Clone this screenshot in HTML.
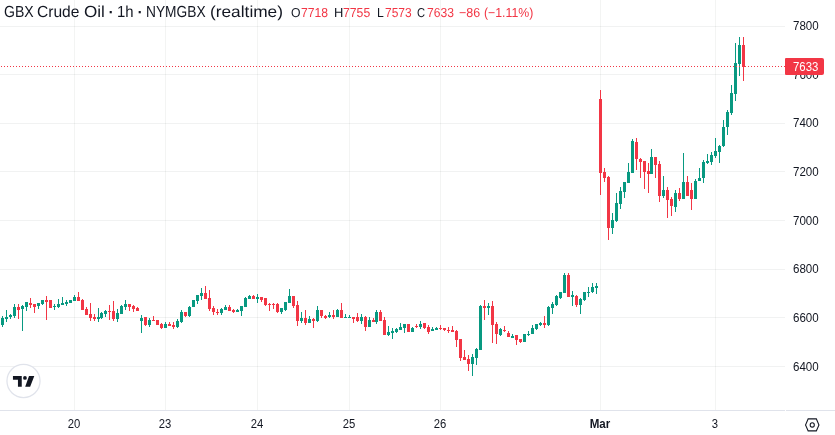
<!DOCTYPE html>
<html lang="en">
<head>
<meta charset="utf-8">
<title>GBX Crude Oil</title>
<style>
html,body{margin:0;padding:0;background:#fff;}
body{width:835px;height:435px;position:relative;overflow:hidden;font-family:"Liberation Sans","DejaVu Sans",sans-serif;color:#131722;}
.plot{position:absolute;left:0;top:0;display:block;}
.t{position:absolute;white-space:nowrap;line-height:1;}
.legend{position:absolute;left:0;top:0;}
.lg{transform-origin:0 0;text-rendering:geometricPrecision;}
.r{color:#f23645;}
.pl{font-size:12px;left:792.8px;transform:scaleX(0.963);transform-origin:0 0;}
.tl{font-size:12px;top:418px;transform:translateX(-50%) scaleX(0.94);}
.tl.b{font-weight:bold;transform:translateX(-50%) scaleX(0.965);}
.axh{position:absolute;top:410px;height:1px;background:#e0e3eb;}
.tag{position:absolute;left:785px;top:58px;width:39px;height:17px;background:#f23645;border-radius:1px 2px 2px 1px;}
.tag span{position:absolute;left:7.8px;top:3px;font-size:12px;line-height:1;color:#fff;transform:scaleX(0.95);transform-origin:0 0;}
.logo{position:absolute;left:0;top:0;}
</style>
</head>
<body>
<svg class="plot" width="785" height="410" viewBox="0 0 785 410" shape-rendering="crispEdges"><g><rect x="74" y="0" width="1" height="410" fill="rgba(20,32,28,0.052)"/><rect x="165" y="0" width="1" height="410" fill="rgba(20,32,28,0.052)"/><rect x="257" y="0" width="1" height="410" fill="rgba(20,32,28,0.052)"/><rect x="349" y="0" width="1" height="410" fill="rgba(20,32,28,0.052)"/><rect x="440" y="0" width="1" height="410" fill="rgba(20,32,28,0.052)"/><rect x="600" y="0" width="1" height="410" fill="rgba(20,32,28,0.052)"/><rect x="715" y="0" width="1" height="410" fill="rgba(20,32,28,0.052)"/><rect x="0" y="26" width="785" height="1" fill="rgba(20,32,28,0.06)"/><rect x="0" y="74" width="785" height="1" fill="rgba(20,32,28,0.06)"/><rect x="0" y="123" width="785" height="1" fill="rgba(20,32,28,0.06)"/><rect x="0" y="171" width="785" height="1" fill="rgba(20,32,28,0.06)"/><rect x="0" y="220" width="785" height="1" fill="rgba(20,32,28,0.06)"/><rect x="0" y="269" width="785" height="1" fill="rgba(20,32,28,0.06)"/><rect x="0" y="317" width="785" height="1" fill="rgba(20,32,28,0.06)"/><rect x="0" y="366" width="785" height="1" fill="rgba(20,32,28,0.06)"/></g><path fill="#089981" d="M2 316h1v11h-1zM1 318h3v7h-3zM6 310h1v12h-1zM5 317h3v2h-3zM10 314h1v5h-1zM9 315h3v2h-3zM14 304h1v14h-1zM13 307h3v9h-3zM22 305h1v26h-1zM21 306h3v3h-3zM26 302h1v9h-1zM25 302h3v5h-3zM38 303h1v6h-1zM37 303h3v3h-3zM42 300h1v5h-1zM41 300h3v4h-3zM54 304h1v6h-1zM53 306h3v1h-3zM58 299h1v9h-1zM57 304h3v3h-3zM62 297h1v8h-1zM61 303h3v2h-3zM66 300h1v6h-1zM65 302h3v2h-3zM70 300h1v3h-1zM69 300h3v3h-3zM74 295h1v6h-1zM73 297h3v4h-3zM98 308h1v14h-1zM97 317h3v2h-3zM101 312h1v7h-1zM100 313h3v5h-3zM105 310h1v7h-1zM104 311h3v3h-3zM117 309h1v13h-1zM116 313h3v6h-3zM121 305h1v9h-1zM120 306h3v8h-3zM125 300h1v10h-1zM124 304h3v3h-3zM141 315h1v18h-1zM140 318h3v3h-3zM149 318h1v9h-1zM148 320h3v5h-3zM165 322h1v6h-1zM164 324h3v4h-3zM177 319h1v9h-1zM176 321h3v6h-3zM181 310h1v13h-1zM180 312h3v10h-3zM189 306h1v11h-1zM188 307h3v9h-3zM193 300h1v7h-1zM192 300h3v7h-3zM197 295h1v9h-1zM196 295h3v6h-3zM201 288h1v12h-1zM200 293h3v3h-3zM221 308h1v7h-1zM220 309h3v4h-3zM225 305h1v5h-1zM224 307h3v3h-3zM237 309h1v3h-1zM236 310h3v2h-3zM241 306h1v10h-1zM240 306h3v5h-3zM245 297h1v10h-1zM244 298h3v9h-3zM249 295h1v4h-1zM248 296h3v3h-3zM257 294h1v9h-1zM256 297h3v2h-3zM281 308h1v6h-1zM280 308h3v4h-3zM285 302h1v9h-1zM284 302h3v8h-3zM289 289h1v14h-1zM288 296h3v7h-3zM301 312h1v11h-1zM300 318h3v3h-3zM309 316h1v7h-1zM308 319h3v4h-3zM317 306h1v16h-1zM316 310h3v11h-3zM329 312h1v6h-1zM328 315h3v2h-3zM337 309h1v8h-1zM336 310h3v7h-3zM345 314h1v4h-1zM344 317h3v1h-3zM349 315h1v3h-1zM348 317h3v1h-3zM361 314h1v10h-1zM360 317h3v4h-3zM369 317h1v10h-1zM368 320h3v7h-3zM376 310h1v14h-1zM375 312h3v10h-3zM388 326h1v10h-1zM387 332h3v3h-3zM392 328h1v11h-1zM391 331h3v2h-3zM396 328h1v5h-1zM395 329h3v3h-3zM400 323h1v7h-1zM399 327h3v3h-3zM404 324h1v9h-1zM403 324h3v4h-3zM412 327h1v5h-1zM411 328h3v4h-3zM420 321h1v8h-1zM419 324h3v3h-3zM432 327h1v4h-1zM431 329h3v2h-3zM436 327h1v3h-1zM435 328h3v2h-3zM472 354h1v22h-1zM471 357h3v7h-3zM476 348h1v17h-1zM475 349h3v9h-3zM480 305h1v45h-1zM479 306h3v44h-3zM488 303h1v12h-1zM487 306h3v2h-3zM500 328h1v8h-1zM499 329h3v6h-3zM512 334h1v4h-1zM511 336h3v2h-3zM524 334h1v8h-1zM523 334h3v8h-3zM528 331h1v5h-1zM527 334h3v1h-3zM532 325h1v9h-1zM531 328h3v6h-3zM536 324h1v6h-1zM535 324h3v5h-3zM540 322h1v4h-1zM539 323h3v2h-3zM548 306h1v20h-1zM547 307h3v18h-3zM552 302h1v12h-1zM551 304h3v4h-3zM556 295h1v11h-1zM555 296h3v9h-3zM560 292h1v7h-1zM559 292h3v6h-3zM564 273h1v20h-1zM563 275h3v18h-3zM572 291h1v15h-1zM571 295h3v2h-3zM580 298h1v16h-1zM579 299h3v6h-3zM584 292h1v9h-1zM583 292h3v8h-3zM588 287h1v10h-1zM587 292h3v1h-3zM592 283h1v10h-1zM591 287h3v5h-3zM596 283h1v11h-1zM595 286h3v2h-3zM612 213h1v21h-1zM611 220h3v8h-3zM616 193h1v29h-1zM615 203h3v18h-3zM620 187h1v22h-1zM619 191h3v13h-3zM624 182h1v16h-1zM623 182h3v10h-3zM628 163h1v20h-1zM627 172h3v11h-3zM632 139h1v34h-1zM631 141h3v32h-3zM651 149h1v25h-1zM650 157h3v17h-3zM663 176h1v22h-1zM662 190h3v6h-3zM675 190h1v22h-1zM674 193h3v14h-3zM683 153h1v46h-1zM682 182h3v17h-3zM695 179h1v20h-1zM694 181h3v18h-3zM699 168h1v13h-1zM698 178h3v3h-3zM703 160h1v23h-1zM702 162h3v16h-3zM707 154h1v10h-1zM706 161h3v2h-3zM711 152h1v13h-1zM710 155h3v7h-3zM715 138h1v20h-1zM714 151h3v5h-3zM719 145h1v18h-1zM718 146h3v6h-3zM723 120h1v27h-1zM722 127h3v19h-3zM727 110h1v25h-1zM726 112h3v15h-3zM731 85h1v30h-1zM730 93h3v20h-3zM735 43h1v58h-1zM734 63h3v31h-3zM739 37h1v39h-1zM738 45h3v19h-3z"/><path fill="#f23645" d="M18 304h1v15h-1zM17 307h3v3h-3zM30 298h1v10h-1zM29 303h3v2h-3zM34 304h1v9h-1zM33 304h3v3h-3zM46 296h1v24h-1zM45 300h3v2h-3zM50 300h1v8h-1zM49 300h3v8h-3zM78 292h1v9h-1zM77 297h3v4h-3zM82 299h1v11h-1zM81 300h3v10h-3zM86 307h1v8h-1zM85 309h3v6h-3zM90 303h1v18h-1zM89 314h3v4h-3zM94 314h1v7h-1zM93 317h3v2h-3zM109 305h1v15h-1zM108 311h3v1h-3zM113 301h1v20h-1zM112 311h3v8h-3zM129 304h1v7h-1zM128 304h3v3h-3zM133 305h1v7h-1zM132 306h3v3h-3zM137 307h1v4h-1zM136 308h3v3h-3zM145 317h1v9h-1zM144 317h3v8h-3zM153 316h1v5h-1zM152 320h3v1h-3zM157 320h1v5h-1zM156 320h3v5h-3zM161 323h1v6h-1zM160 324h3v4h-3zM169 322h1v4h-1zM168 324h3v2h-3zM173 322h1v7h-1zM172 325h3v2h-3zM185 312h1v5h-1zM184 312h3v4h-3zM205 286h1v13h-1zM204 293h3v6h-3zM209 290h1v21h-1zM208 298h3v11h-3zM213 306h1v9h-1zM212 308h3v4h-3zM217 309h1v6h-1zM216 312h3v1h-3zM229 305h1v6h-1zM228 307h3v4h-3zM233 309h1v4h-1zM232 310h3v2h-3zM253 295h1v4h-1zM252 296h3v3h-3zM261 297h1v5h-1zM260 297h3v3h-3zM265 298h1v8h-1zM264 298h3v7h-3zM269 303h1v8h-1zM268 304h3v1h-3zM273 303h1v6h-1zM272 304h3v1h-3zM277 303h1v10h-1zM276 304h3v8h-3zM293 296h1v12h-1zM292 296h3v10h-3zM297 301h1v25h-1zM296 305h3v16h-3zM305 310h1v15h-1zM304 318h3v5h-3zM313 318h1v10h-1zM312 319h3v2h-3zM321 310h1v8h-1zM320 310h3v6h-3zM325 315h1v4h-1zM324 316h3v2h-3zM333 310h1v9h-1zM332 315h3v2h-3zM341 303h1v15h-1zM340 310h3v8h-3zM353 317h1v6h-1zM352 317h3v2h-3zM357 313h1v9h-1zM356 317h3v4h-3zM365 316h1v15h-1zM364 317h3v10h-3zM373 318h1v4h-1zM372 320h3v2h-3zM380 310h1v11h-1zM379 312h3v9h-3zM384 317h1v18h-1zM383 320h3v15h-3zM408 324h1v8h-1zM407 324h3v8h-3zM416 324h1v4h-1zM415 326h3v1h-3zM424 323h1v6h-1zM423 323h3v5h-3zM428 325h1v9h-1zM427 327h3v5h-3zM440 325h1v5h-1zM439 328h3v1h-3zM444 328h1v3h-1zM443 328h3v2h-3zM448 327h1v6h-1zM447 330h3v1h-3zM452 326h1v6h-1zM451 330h3v2h-3zM456 330h1v17h-1zM455 331h3v9h-3zM460 339h1v22h-1zM459 339h3v19h-3zM464 350h1v10h-1zM463 357h3v3h-3zM468 355h1v16h-1zM467 359h3v5h-3zM484 300h1v20h-1zM483 306h3v2h-3zM492 301h1v42h-1zM491 306h3v19h-3zM496 322h1v22h-1zM495 324h3v10h-3zM504 326h1v6h-1zM503 330h3v1h-3zM508 331h1v6h-1zM507 333h3v4h-3zM516 335h1v10h-1zM515 335h3v5h-3zM520 339h1v4h-1zM519 339h3v3h-3zM544 316h1v12h-1zM543 323h3v2h-3zM568 273h1v24h-1zM567 275h3v22h-3zM576 295h1v12h-1zM575 296h3v9h-3zM600 90h1v105h-1zM599 99h3v74h-3zM604 168h1v14h-1zM603 172h3v6h-3zM608 176h1v64h-1zM607 177h3v51h-3zM636 138h1v32h-1zM635 142h3v17h-3zM640 158h1v20h-1zM639 159h3v3h-3zM644 161h1v28h-1zM643 161h3v11h-3zM648 163h1v30h-1zM647 171h3v3h-3zM655 157h1v21h-1zM654 157h3v8h-3zM659 161h1v41h-1zM658 164h3v32h-3zM667 187h1v31h-1zM666 190h3v10h-3zM671 197h1v19h-1zM670 199h3v7h-3zM679 188h1v13h-1zM678 193h3v6h-3zM687 176h1v20h-1zM686 182h3v14h-3zM691 183h1v27h-1zM690 190h3v9h-3zM743 37h1v44h-1zM742 45h3v22h-3z"/><g fill="#f23645"><rect x="1" y="66" width="1" height="1"/><rect x="4" y="66" width="1" height="1"/><rect x="7" y="66" width="1" height="1"/><rect x="10" y="66" width="1" height="1"/><rect x="13" y="66" width="1" height="1"/><rect x="16" y="66" width="1" height="1"/><rect x="19" y="66" width="1" height="1"/><rect x="22" y="66" width="1" height="1"/><rect x="25" y="66" width="1" height="1"/><rect x="28" y="66" width="1" height="1"/><rect x="31" y="66" width="1" height="1"/><rect x="34" y="66" width="1" height="1"/><rect x="37" y="66" width="1" height="1"/><rect x="40" y="66" width="1" height="1"/><rect x="43" y="66" width="1" height="1"/><rect x="46" y="66" width="1" height="1"/><rect x="49" y="66" width="1" height="1"/><rect x="52" y="66" width="1" height="1"/><rect x="55" y="66" width="1" height="1"/><rect x="58" y="66" width="1" height="1"/><rect x="61" y="66" width="1" height="1"/><rect x="64" y="66" width="1" height="1"/><rect x="67" y="66" width="1" height="1"/><rect x="70" y="66" width="1" height="1"/><rect x="73" y="66" width="1" height="1"/><rect x="76" y="66" width="1" height="1"/><rect x="79" y="66" width="1" height="1"/><rect x="82" y="66" width="1" height="1"/><rect x="85" y="66" width="1" height="1"/><rect x="88" y="66" width="1" height="1"/><rect x="91" y="66" width="1" height="1"/><rect x="94" y="66" width="1" height="1"/><rect x="97" y="66" width="1" height="1"/><rect x="100" y="66" width="1" height="1"/><rect x="103" y="66" width="1" height="1"/><rect x="106" y="66" width="1" height="1"/><rect x="109" y="66" width="1" height="1"/><rect x="112" y="66" width="1" height="1"/><rect x="115" y="66" width="1" height="1"/><rect x="118" y="66" width="1" height="1"/><rect x="121" y="66" width="1" height="1"/><rect x="124" y="66" width="1" height="1"/><rect x="127" y="66" width="1" height="1"/><rect x="130" y="66" width="1" height="1"/><rect x="133" y="66" width="1" height="1"/><rect x="136" y="66" width="1" height="1"/><rect x="139" y="66" width="1" height="1"/><rect x="142" y="66" width="1" height="1"/><rect x="145" y="66" width="1" height="1"/><rect x="148" y="66" width="1" height="1"/><rect x="151" y="66" width="1" height="1"/><rect x="154" y="66" width="1" height="1"/><rect x="157" y="66" width="1" height="1"/><rect x="160" y="66" width="1" height="1"/><rect x="163" y="66" width="1" height="1"/><rect x="166" y="66" width="1" height="1"/><rect x="169" y="66" width="1" height="1"/><rect x="172" y="66" width="1" height="1"/><rect x="175" y="66" width="1" height="1"/><rect x="178" y="66" width="1" height="1"/><rect x="181" y="66" width="1" height="1"/><rect x="184" y="66" width="1" height="1"/><rect x="187" y="66" width="1" height="1"/><rect x="190" y="66" width="1" height="1"/><rect x="193" y="66" width="1" height="1"/><rect x="196" y="66" width="1" height="1"/><rect x="199" y="66" width="1" height="1"/><rect x="202" y="66" width="1" height="1"/><rect x="205" y="66" width="1" height="1"/><rect x="208" y="66" width="1" height="1"/><rect x="211" y="66" width="1" height="1"/><rect x="214" y="66" width="1" height="1"/><rect x="217" y="66" width="1" height="1"/><rect x="220" y="66" width="1" height="1"/><rect x="223" y="66" width="1" height="1"/><rect x="226" y="66" width="1" height="1"/><rect x="229" y="66" width="1" height="1"/><rect x="232" y="66" width="1" height="1"/><rect x="235" y="66" width="1" height="1"/><rect x="238" y="66" width="1" height="1"/><rect x="241" y="66" width="1" height="1"/><rect x="244" y="66" width="1" height="1"/><rect x="247" y="66" width="1" height="1"/><rect x="250" y="66" width="1" height="1"/><rect x="253" y="66" width="1" height="1"/><rect x="256" y="66" width="1" height="1"/><rect x="259" y="66" width="1" height="1"/><rect x="262" y="66" width="1" height="1"/><rect x="265" y="66" width="1" height="1"/><rect x="268" y="66" width="1" height="1"/><rect x="271" y="66" width="1" height="1"/><rect x="274" y="66" width="1" height="1"/><rect x="277" y="66" width="1" height="1"/><rect x="280" y="66" width="1" height="1"/><rect x="283" y="66" width="1" height="1"/><rect x="286" y="66" width="1" height="1"/><rect x="289" y="66" width="1" height="1"/><rect x="292" y="66" width="1" height="1"/><rect x="295" y="66" width="1" height="1"/><rect x="298" y="66" width="1" height="1"/><rect x="301" y="66" width="1" height="1"/><rect x="304" y="66" width="1" height="1"/><rect x="307" y="66" width="1" height="1"/><rect x="310" y="66" width="1" height="1"/><rect x="313" y="66" width="1" height="1"/><rect x="316" y="66" width="1" height="1"/><rect x="319" y="66" width="1" height="1"/><rect x="322" y="66" width="1" height="1"/><rect x="325" y="66" width="1" height="1"/><rect x="328" y="66" width="1" height="1"/><rect x="331" y="66" width="1" height="1"/><rect x="334" y="66" width="1" height="1"/><rect x="337" y="66" width="1" height="1"/><rect x="340" y="66" width="1" height="1"/><rect x="343" y="66" width="1" height="1"/><rect x="346" y="66" width="1" height="1"/><rect x="349" y="66" width="1" height="1"/><rect x="352" y="66" width="1" height="1"/><rect x="355" y="66" width="1" height="1"/><rect x="358" y="66" width="1" height="1"/><rect x="361" y="66" width="1" height="1"/><rect x="364" y="66" width="1" height="1"/><rect x="367" y="66" width="1" height="1"/><rect x="370" y="66" width="1" height="1"/><rect x="373" y="66" width="1" height="1"/><rect x="376" y="66" width="1" height="1"/><rect x="379" y="66" width="1" height="1"/><rect x="382" y="66" width="1" height="1"/><rect x="385" y="66" width="1" height="1"/><rect x="388" y="66" width="1" height="1"/><rect x="391" y="66" width="1" height="1"/><rect x="394" y="66" width="1" height="1"/><rect x="397" y="66" width="1" height="1"/><rect x="400" y="66" width="1" height="1"/><rect x="403" y="66" width="1" height="1"/><rect x="406" y="66" width="1" height="1"/><rect x="409" y="66" width="1" height="1"/><rect x="412" y="66" width="1" height="1"/><rect x="415" y="66" width="1" height="1"/><rect x="418" y="66" width="1" height="1"/><rect x="421" y="66" width="1" height="1"/><rect x="424" y="66" width="1" height="1"/><rect x="427" y="66" width="1" height="1"/><rect x="430" y="66" width="1" height="1"/><rect x="433" y="66" width="1" height="1"/><rect x="436" y="66" width="1" height="1"/><rect x="439" y="66" width="1" height="1"/><rect x="442" y="66" width="1" height="1"/><rect x="445" y="66" width="1" height="1"/><rect x="448" y="66" width="1" height="1"/><rect x="451" y="66" width="1" height="1"/><rect x="454" y="66" width="1" height="1"/><rect x="457" y="66" width="1" height="1"/><rect x="460" y="66" width="1" height="1"/><rect x="463" y="66" width="1" height="1"/><rect x="466" y="66" width="1" height="1"/><rect x="469" y="66" width="1" height="1"/><rect x="472" y="66" width="1" height="1"/><rect x="475" y="66" width="1" height="1"/><rect x="478" y="66" width="1" height="1"/><rect x="481" y="66" width="1" height="1"/><rect x="484" y="66" width="1" height="1"/><rect x="487" y="66" width="1" height="1"/><rect x="490" y="66" width="1" height="1"/><rect x="493" y="66" width="1" height="1"/><rect x="496" y="66" width="1" height="1"/><rect x="499" y="66" width="1" height="1"/><rect x="502" y="66" width="1" height="1"/><rect x="505" y="66" width="1" height="1"/><rect x="508" y="66" width="1" height="1"/><rect x="511" y="66" width="1" height="1"/><rect x="514" y="66" width="1" height="1"/><rect x="517" y="66" width="1" height="1"/><rect x="520" y="66" width="1" height="1"/><rect x="523" y="66" width="1" height="1"/><rect x="526" y="66" width="1" height="1"/><rect x="529" y="66" width="1" height="1"/><rect x="532" y="66" width="1" height="1"/><rect x="535" y="66" width="1" height="1"/><rect x="538" y="66" width="1" height="1"/><rect x="541" y="66" width="1" height="1"/><rect x="544" y="66" width="1" height="1"/><rect x="547" y="66" width="1" height="1"/><rect x="550" y="66" width="1" height="1"/><rect x="553" y="66" width="1" height="1"/><rect x="556" y="66" width="1" height="1"/><rect x="559" y="66" width="1" height="1"/><rect x="562" y="66" width="1" height="1"/><rect x="565" y="66" width="1" height="1"/><rect x="568" y="66" width="1" height="1"/><rect x="571" y="66" width="1" height="1"/><rect x="574" y="66" width="1" height="1"/><rect x="577" y="66" width="1" height="1"/><rect x="580" y="66" width="1" height="1"/><rect x="583" y="66" width="1" height="1"/><rect x="586" y="66" width="1" height="1"/><rect x="589" y="66" width="1" height="1"/><rect x="592" y="66" width="1" height="1"/><rect x="595" y="66" width="1" height="1"/><rect x="598" y="66" width="1" height="1"/><rect x="601" y="66" width="1" height="1"/><rect x="604" y="66" width="1" height="1"/><rect x="607" y="66" width="1" height="1"/><rect x="610" y="66" width="1" height="1"/><rect x="613" y="66" width="1" height="1"/><rect x="616" y="66" width="1" height="1"/><rect x="619" y="66" width="1" height="1"/><rect x="622" y="66" width="1" height="1"/><rect x="625" y="66" width="1" height="1"/><rect x="628" y="66" width="1" height="1"/><rect x="631" y="66" width="1" height="1"/><rect x="634" y="66" width="1" height="1"/><rect x="637" y="66" width="1" height="1"/><rect x="640" y="66" width="1" height="1"/><rect x="643" y="66" width="1" height="1"/><rect x="646" y="66" width="1" height="1"/><rect x="649" y="66" width="1" height="1"/><rect x="652" y="66" width="1" height="1"/><rect x="655" y="66" width="1" height="1"/><rect x="658" y="66" width="1" height="1"/><rect x="661" y="66" width="1" height="1"/><rect x="664" y="66" width="1" height="1"/><rect x="667" y="66" width="1" height="1"/><rect x="670" y="66" width="1" height="1"/><rect x="673" y="66" width="1" height="1"/><rect x="676" y="66" width="1" height="1"/><rect x="679" y="66" width="1" height="1"/><rect x="682" y="66" width="1" height="1"/><rect x="685" y="66" width="1" height="1"/><rect x="688" y="66" width="1" height="1"/><rect x="691" y="66" width="1" height="1"/><rect x="694" y="66" width="1" height="1"/><rect x="697" y="66" width="1" height="1"/><rect x="700" y="66" width="1" height="1"/><rect x="703" y="66" width="1" height="1"/><rect x="706" y="66" width="1" height="1"/><rect x="709" y="66" width="1" height="1"/><rect x="712" y="66" width="1" height="1"/><rect x="715" y="66" width="1" height="1"/><rect x="718" y="66" width="1" height="1"/><rect x="721" y="66" width="1" height="1"/><rect x="724" y="66" width="1" height="1"/><rect x="727" y="66" width="1" height="1"/><rect x="730" y="66" width="1" height="1"/><rect x="733" y="66" width="1" height="1"/><rect x="736" y="66" width="1" height="1"/><rect x="739" y="66" width="1" height="1"/><rect x="742" y="66" width="1" height="1"/><rect x="745" y="66" width="1" height="1"/><rect x="748" y="66" width="1" height="1"/><rect x="751" y="66" width="1" height="1"/><rect x="754" y="66" width="1" height="1"/><rect x="757" y="66" width="1" height="1"/><rect x="760" y="66" width="1" height="1"/><rect x="763" y="66" width="1" height="1"/><rect x="766" y="66" width="1" height="1"/><rect x="769" y="66" width="1" height="1"/><rect x="772" y="66" width="1" height="1"/><rect x="775" y="66" width="1" height="1"/><rect x="778" y="66" width="1" height="1"/><rect x="781" y="66" width="1" height="1"/><rect x="784" y="66" width="1" height="1"/></g></svg>
<div class="axh" style="left:0;width:785px"></div>
<div class="axh" style="left:786px;width:49px"></div>
<div class="legend">
<span class="t lg" style="left:3.75px;top:5px;font-size:16px;transform:scale(0.8777,1)">GBX</span>
<span class="t lg" style="left:37.17px;top:5px;font-size:16px;transform:scale(0.9724,1)">Crude</span>
<span class="t lg" style="left:84.22px;top:5px;font-size:16px;transform:scale(1.0673,1)">Oil</span>
<span class="t lg" style="left:106.79px;top:1.504999999999999px;font-size:16px;transform:scale(1.4,1.35)">·</span>
<span class="t lg" style="left:117.17px;top:5px;font-size:16px;transform:scale(0.9303,1)">1h</span>
<span class="t lg" style="left:135.79px;top:1.504999999999999px;font-size:16px;transform:scale(1.4,1.35)">·</span>
<span class="t lg" style="left:145.98px;top:5px;font-size:16px;transform:scale(0.8591,1)">NYMGBX</span>
<span class="t lg" style="left:210.15px;top:5px;font-size:16px;transform:scale(1.0803,1)">(realtime)</span>
<span class="t lg" style="left:290.55px;top:6px;font-size:13px;transform:scale(0.941,1)">O</span>
<span class="t lg r" style="left:300.94px;top:6px;font-size:13px;transform:scale(0.9352,1)">7718</span>
<span class="t lg" style="left:333.71px;top:6px;font-size:13px;transform:scale(0.9952,1)">H</span>
<span class="t lg r" style="left:343.44px;top:6px;font-size:13px;transform:scale(0.9409,1)">7755</span>
<span class="t lg" style="left:376.67px;top:6px;font-size:13px;transform:scale(0.9375,1)">L</span>
<span class="t lg r" style="left:384.85px;top:6px;font-size:13px;transform:scale(0.9215,1)">7573</span>
<span class="t lg" style="left:417.28px;top:6px;font-size:13px;transform:scale(0.8597,1)">C</span>
<span class="t lg r" style="left:426.64px;top:6px;font-size:13px;transform:scale(0.9306,1)">7633</span>
<span class="t lg r" style="left:459.42px;top:6px;font-size:13px;transform:scale(0.9615,1)">−86</span>
<span class="t lg r" style="left:484.39px;top:6px;font-size:13px;transform:scale(0.9463,1)">(−1.11%)</span>
</div>
<div class="t pl" style="top:20px">7800</div>
<div class="t pl" style="top:69px">7600</div>
<div class="t pl" style="top:117px">7400</div>
<div class="t pl" style="top:166px">7200</div>
<div class="t pl" style="top:215px">7000</div>
<div class="t pl" style="top:263px">6800</div>
<div class="t pl" style="top:312px">6600</div>
<div class="t pl" style="top:361px">6400</div>
<div class="t tl" style="left:73.65px">20</div>
<div class="t tl" style="left:164.65px">23</div>
<div class="t tl" style="left:256.65px">24</div>
<div class="t tl" style="left:348.65px">25</div>
<div class="t tl" style="left:439.65px">26</div>
<div class="t tl b" style="left:599.65px">Mar</div>
<div class="t tl" style="left:714.65px">3</div>
<div class="tag"><span>7633</span></div>
<svg class="logo" width="835" height="435" viewBox="0 0 835 435" style="pointer-events:none">

<circle cx="23.5" cy="381" r="16.55" fill="#fff" stroke="#e0e3eb" stroke-width="1.25"/>
<g fill="#131722"><path d="M12.95 376.05H21.75V386.8H17.95V379.85H12.95zM29 376.05H34.3L30.15 386.8H25.2z"/><circle cx="24.95" cy="377.95" r="1.9"/></g>
<g transform="translate(812.25 424.9) scale(1.04 1.09) translate(-9 -9)" fill="#131722"><path fill-rule="evenodd" d="m3.1 9 2.28-5h7.24l2.28 5-2.28 5H5.38L3.1 9Zm1.63-6h8.54L16 9l-2.73 6H4.73L2 9l2.73-6Zm5.77 6a1.5 1.5 0 1 1-3 0 1.5 1.5 0 0 1 3 0Zm1 0a2.5 2.5 0 1 1-5 0 2.5 2.5 0 0 1 5 0Z"/></g>
</svg>
</body>
</html>
